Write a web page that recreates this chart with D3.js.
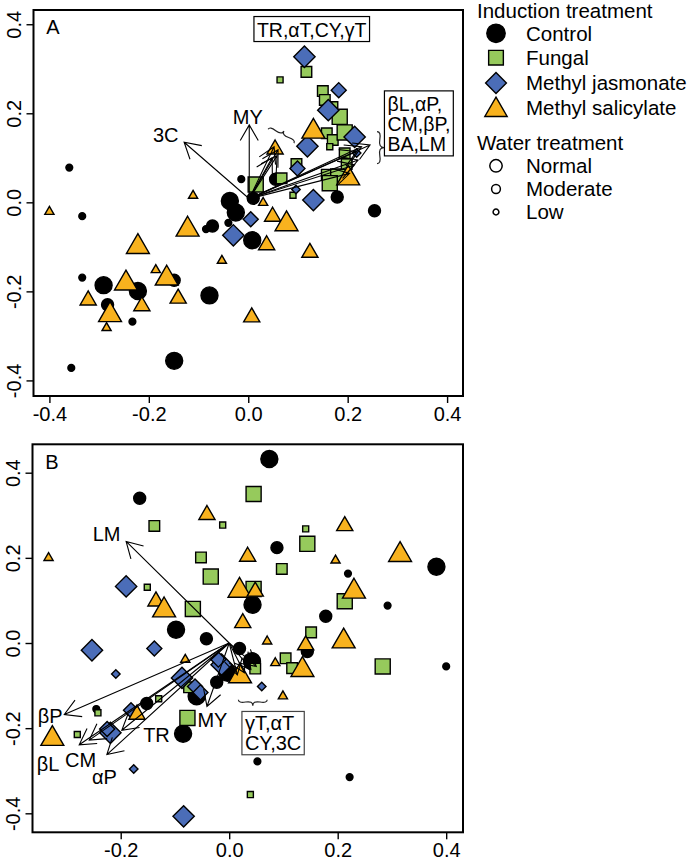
<!DOCTYPE html>
<html><head><meta charset="utf-8">
<script src="https://cdn.jsdelivr.net/npm/d3@7"></script>
<style>body{margin:0;background:#fff}</style>
</head><body><svg id="c" width="688" height="860"></svg>
<script>
// ---------------- DATA ----------------
const groups = ["Control","Fungal","Methyl jasmonate","Methyl salicylate"];
const waterLevels = ["Normal","Moderate","Low"];
const waterCodes = ["N","M","L"];
const xTicksA = [-0.4,-0.2,0.0,0.2,0.4];
const yTicksA = [-0.4,-0.2,0.0,0.2,0.4];
const xTicksB = [-0.2,0.0,0.2,0.4];
const yTicksB = [-0.4,-0.2,0.0,0.2,0.4];

// Panel A scores: [axis1, axis2, water]
const controlA = [[-0.360,0.078,"L"],[-0.334,-0.031,"L"],[-0.356,-0.372,"L"],[-0.334,-0.169,"L"],[-0.291,-0.186,"N"],[-0.283,-0.230,"M"],[-0.233,-0.268,"L"],[-0.222,-0.199,"N"],[-0.149,-0.175,"M"],[-0.078,-0.209,"N"],[-0.149,-0.356,"N"],[-0.072,-0.053,"M"],[-0.085,-0.060,"L"],[-0.040,-0.046,"L"],[-0.037,0.003,"N"],[-0.025,-0.023,"N"],[0.008,-0.085,"N"],[-0.014,0.052,"L"],[0.010,0.009,"M"],[0.055,0.052,"M"],[0.179,0.012,"M"],[0.254,-0.019,"M"]];
const fungalA = [[0.117,0.293,"M"],[0.064,0.275,"L"],[0.150,0.250,"M"],[0.154,0.230,"M"],[0.174,0.219,"L"],[0.184,0.192,"N"],[0.158,0.155,"M"],[0.170,0.140,"M"],[0.194,0.157,"N"],[0.164,0.125,"L"],[0.097,0.086,"M"],[0.158,0.062,"M"],[0.181,0.058,"N"],[0.164,0.043,"N"],[0.198,0.086,"M"],[0.067,0.054,"M"],[0.015,0.040,"N"],[0.090,0.016,"L"],[0.194,0.110,"M"]];
const mejaA = [[0.113,0.327,"N"],[0.182,0.252,"M"],[0.161,0.207,"N"],[0.214,0.147,"N"],[0.119,0.126,"N"],[0.218,0.111,"L"],[0.099,0.076,"M"],[0.096,0.029,"L"],[0.131,0.005,"N"],[0.005,-0.038,"M"],[-0.030,-0.074,"N"]];
const mesaA = [[-0.400,-0.021,"L"],[-0.111,0.015,"L"],[-0.222,-0.100,"N"],[-0.122,-0.061,"N"],[-0.186,-0.152,"L"],[-0.164,-0.171,"N"],[-0.246,-0.182,"N"],[-0.322,-0.220,"M"],[-0.214,-0.233,"M"],[-0.141,-0.216,"M"],[-0.278,-0.253,"N"],[-0.285,-0.282,"L"],[-0.053,-0.131,"L"],[0.007,-0.258,"M"],[0.049,-0.032,"M"],[0.077,-0.049,"N"],[0.037,-0.096,"M"],[0.124,-0.113,"M"],[0.030,-0.001,"L"],[0.054,0.119,"M"],[0.131,0.159,"N"],[0.201,0.054,"N"]];

// Panel B scores
const controlB = [[0.074,0.432,"N"],[-0.165,0.340,"M"],[0.088,0.224,"M"],[0.219,0.163,"L"],[0.292,0.088,"L"],[0.043,0.090,"N"],[0.178,0.063,"M"],[-0.098,0.031,"N"],[-0.042,0.010,"M"],[0.019,-0.013,"M"],[0.042,-0.043,"N"],[-0.003,-0.070,"N"],[-0.023,-0.092,"M"],[-0.060,-0.125,"N"],[-0.152,-0.142,"M"],[-0.245,-0.155,"L"],[-0.085,-0.213,"N"],[0.052,-0.278,"L"],[0.222,-0.315,"L"],[0.144,-0.020,"M"],[0.382,0.179,"N"],[0.400,-0.055,"L"]];
const fungalB = [[0.045,0.350,"N"],[-0.138,0.275,"M"],[-0.012,0.277,"L"],[0.141,0.268,"L"],[0.144,0.233,"N"],[-0.052,0.201,"M"],[0.097,0.174,"M"],[-0.034,0.156,"N"],[-0.151,0.131,"L"],[0.045,0.127,"N"],[-0.067,0.080,"N"],[0.213,0.098,"N"],[0.151,0.025,"M"],[0.104,-0.036,"M"],[0.116,-0.059,"M"],[0.283,-0.055,"N"],[0.048,-0.060,"M"],[-0.074,-0.104,"M"],[-0.130,-0.131,"L"],[-0.242,-0.164,"L"],[-0.280,-0.215,"L"],[-0.077,-0.176,"N"],[0.039,-0.356,"L"],[-0.225,-0.200,"L"]];
const mejaB = [[-0.190,0.133,"N"],[-0.253,-0.017,"N"],[-0.138,-0.013,"M"],[-0.209,-0.073,"L"],[-0.014,-0.051,"N"],[-0.087,-0.082,"N"],[-0.063,-0.102,"M"],[-0.053,-0.116,"M"],[-0.181,-0.158,"M"],[-0.219,-0.211,"N"],[-0.225,-0.202,"M"],[0.060,-0.102,"L"],[-0.176,-0.296,"L"],[-0.084,-0.407,"N"],[-0.020,-0.039,"M"]];
const mesaB = [[-0.041,0.301,"M"],[-0.333,0.200,"L"],[0.213,0.275,"M"],[0.034,0.203,"M"],[0.196,0.194,"L"],[0.315,0.207,"N"],[0.019,0.123,"N"],[0.048,0.121,"M"],[0.230,0.121,"N"],[-0.135,0.098,"M"],[-0.120,0.077,"N"],[0.025,0.047,"M"],[0.070,0.004,"L"],[0.141,-0.005,"M"],[0.211,0.004,"N"],[-0.081,-0.039,"L"],[0.085,-0.047,"L"],[0.135,-0.063,"N"],[0.020,-0.078,"N"],[0.099,-0.125,"L"],[-0.170,-0.168,"M"],[-0.326,-0.225,"N"]];

// Compound loading vectors (arrow tips)
const loadingsA = [[-0.129,0.135],[0.002,0.174],[0.052,0.125],[0.060,0.118],[0.058,0.105],[0.048,0.100],[0.245,0.129],[0.228,0.125],[0.218,0.114],[0.221,0.095],[0.214,0.084],[0.204,0.065]];
const originA = [0.002,0.008];
const loadingsB = [[-0.190,0.2385],[-0.304,-0.168],[-0.2765,-0.239],[-0.258,-0.228],[-0.2255,-0.262],[-0.198,-0.205],[-0.041,-0.149],[0.015,-0.075],[0.028,-0.070],[0.040,-0.062],[0.050,-0.055]];
const originB = [0.0,0.0];

// Vector labels: [text, x, y]
const labelsA = [["3C",-0.166,0.151],["MY",-0.001,0.192]];
const labelsB = [["LM",-0.226,0.257],["βP",-0.330,-0.170],["βL",-0.334,-0.283],["CM",-0.274,-0.275],["αP",-0.230,-0.314],["TR",-0.134,-0.215],["MY",-0.031,-0.180]];
// Boxed group labels: lines, left x, first line y
const boxesA = [{lines:["TR,αT,CY,γT"], x:0.0175, y:0.387},{lines:["βL,αP,","CM,βP,","BA,LM"], x:0.280, y:0.220}];
const boxesB = [{lines:["γT,αT","CY,3C"], x:0.029, y:-0.188}];

// ---------------- LAYOUT / STYLE ----------------
const FONT = "'Liberation Sans', Arial, Helvetica, sans-serif";
const svg = d3.select("#c");
const waterR = {N:8.5, M:6, L:3.4};
const colors = {"Control":"#000000","Fungal":"#96CA5C","Methyl jasmonate":"#4B6DB8","Methyl salicylate":"#F8B21E"};
const shapes = {"Control":"circle","Fungal":"square","Methyl jasmonate":"diamond","Methyl salicylate":"triangle"};

function symPath(shape,R){
  if(shape==="circle") return `M${R},0A${R},${R} 0 1,1 ${-R},0A${R},${R} 0 1,1 ${R},0Z`;
  if(shape==="square"){const s=0.886*R;return `M${-s},${-s}H${s}V${s}H${-s}Z`;}
  if(shape==="diamond"){const d=1.253*R;return `M0,${-d}L${d},0L0,${d}L${-d},0Z`;}
  const r=1.5551*R, xc=1.3468*R, yc=0.7776*R;
  return `M0,${-r}L${xc},${yc}L${-xc},${yc}Z`;
}
function brace(x1,y1,x2,y2,w,q=0.6){
  const len=Math.hypot(x1-x2,y1-y2), dx=(x1-x2)/len, dy=(y1-y2)/len;
  const qx1=x1+q*w*dy, qy1=y1-q*w*dx;
  const qx2=(x1-.25*len*dx)+(1-q)*w*dy, qy2=(y1-.25*len*dy)-(1-q)*w*dx;
  const tx1=(x1-.5*len*dx)+w*dy, ty1=(y1-.5*len*dy)-w*dx;
  const qx3=x2+q*w*dy, qy3=y2-q*w*dx;
  const qx4=(x1-.75*len*dx)+(1-q)*w*dy, qy4=(y1-.75*len*dy)-(1-q)*w*dx;
  return `M${x1},${y1}Q${qx1},${qy1} ${qx2},${qy2}T${tx1},${ty1}M${x2},${y2}Q${qx3},${qy3} ${qx4},${qy4}T${tx1},${ty1}`;
}
const fmt = d => d.toFixed(1);

function panel(cfg){
  const g = svg.append("g");
  const x = d3.scaleLinear().domain(cfg.xDomain).range([cfg.left,cfg.right]);
  const y = d3.scaleLinear().domain(cfg.yDomain).range([cfg.bottom,cfg.top]);
  cfg.series.forEach(([grp,data])=>{
    g.append("g").selectAll("path").data(data).join("path")
      .attr("transform",d=>`translate(${x(d[0])},${y(d[1])})`)
      .attr("d",d=>symPath(shapes[grp],waterR[d[2]]))
      .attr("fill",colors[grp]).attr("stroke","#000").attr("stroke-width",1.4).attr("stroke-linejoin","miter");
  });
  // arrows
  const L=18, ang=Math.PI/6;
  const x0=x(cfg.origin[0]), y0=y(cfg.origin[1]);
  g.append("g").selectAll("path").data(cfg.loadings).join("path")
    .attr("d",d=>{
      const x1=x(d[0]), y1=y(d[1]); const a=Math.atan2(y1-y0,x1-x0);
      return `M${x0},${y0}L${x1},${y1}M${x1-L*Math.cos(a-ang)},${y1-L*Math.sin(a-ang)}L${x1},${y1}L${x1-L*Math.cos(a+ang)},${y1-L*Math.sin(a+ang)}`;
    })
    .attr("fill","none").attr("stroke","#000").attr("stroke-width",1.1);
  // labels
  g.append("g").selectAll("text").data(cfg.labels).join("text")
    .attr("x",d=>x(d[1])).attr("y",d=>y(d[2])).attr("dy","0.36em")
    .attr("text-anchor","middle").attr("font-family",FONT).attr("font-size",20).text(d=>d[0]);
  // braces
  cfg.braces.forEach(b=>{
    g.append("path").attr("d",brace(x(b[0]),y(b[1]),x(b[2]),y(b[3]),b[4]))
      .attr("fill","none").attr("stroke","#222").attr("stroke-width",1.2);
  });
  // boxes
  cfg.boxes.forEach(b=>{
    const bg=g.append("g");
    const rect=bg.append("rect");
    const t=bg.append("text").attr("font-family",FONT).attr("font-size",cfg.boxFont);
    b.lines.forEach((ln,i)=>{
      t.append("tspan").attr("x",x(b.x)).attr("y",y(b.y)+i*cfg.lineGap).attr("dy","0.36em").text(ln);
    });
    const bb=t.node().getBBox();
    const top=y(b.y)-cfg.boxPadTop, bot=y(b.y)+(b.lines.length-1)*cfg.lineGap+cfg.boxPadBot;
    rect.attr("x",bb.x-3).attr("y",top).attr("width",bb.width+6).attr("height",bot-top)
      .attr("fill","#fff").attr("stroke",cfg.boxStroke).attr("stroke-width",1.2);
  });
  // frame
  g.append("rect").attr("x",cfg.left).attr("y",cfg.top).attr("width",cfg.right-cfg.left).attr("height",cfg.bottom-cfg.top)
    .attr("fill","none").attr("stroke","#000").attr("stroke-width",2);
  // axes
  const ax=g.append("g").attr("transform",`translate(0,${cfg.bottom})`)
    .call(d3.axisBottom(x).tickValues(cfg.xTicks).tickSize(7).tickPadding(4).tickFormat(fmt));
  const ay=g.append("g").attr("transform",`translate(${cfg.left},0)`)
    .call(d3.axisLeft(y).tickValues(cfg.yTicks).tickSize(7).tickFormat(fmt));
  [ax,ay].forEach(a=>{
    a.select(".domain").remove();
    a.attr("font-family",FONT).attr("font-size",20);
    a.selectAll("line").attr("stroke","#000").attr("stroke-width",1.4);
    a.selectAll("text").attr("fill","#000");
  });
  ay.selectAll("text").attr("transform","rotate(-90)").attr("x",0).attr("y",-12.5).attr("dy",0).attr("text-anchor","middle");
  // panel letter
  g.append("text").attr("x",cfg.left+19.5).attr("y",cfg.top+17).attr("dy","0.36em").attr("text-anchor","middle")
    .attr("font-family",FONT).attr("font-size",20).text(cfg.letter);
}

panel({letter:"A", left:33.5,right:463,top:10,bottom:396, xDomain:[-0.432,0.432], yDomain:[-0.435,0.432],
  series:[["Control",controlA],["Fungal",fungalA],["Methyl jasmonate",mejaA],["Methyl salicylate",mesaA]],
  origin:originA, loadings:loadingsA, labels:labelsA, boxes:boxesA, boxFont:19.5, lineGap:20, boxPadTop:13.5, boxPadBot:11.5, boxStroke:"#000",
  braces:[[0.092,0.133,0.040,0.164,6],[0.259,0.087,0.259,0.159,7]],
  xTicks:xTicksA, yTicks:yTicksA});
panel({letter:"B", left:32.5,right:463,top:444.3,bottom:832.3, xDomain:[-0.3626,0.431], yDomain:[-0.4446,0.4667],
  series:[["Control",controlB],["Fungal",fungalB],["Methyl jasmonate",mejaB],["Methyl salicylate",mesaB]],
  origin:originB, loadings:loadingsB, labels:labelsB, boxes:boxesB, boxFont:20, lineGap:20, boxPadTop:11.6, boxPadBot:11.7, boxStroke:"#444",
  braces:[[0.017,-0.133,0.070,-0.133,6]],
  xTicks:xTicksB, yTicks:yTicksB});

// ---------------- LEGEND ----------------
const lg = svg.append("g").attr("font-family",FONT).attr("font-size",20.5);
const legSymX = 496, legTxtX = 526;
const indY = [33.3,57.7,83,107.5];
lg.append("text").attr("x",477).attr("y",11).attr("dy","0.36em").text("Induction treatment");
lg.selectAll("path.ind").data(groups).join("path").attr("class","ind")
  .attr("transform",(d,i)=>`translate(${legSymX},${indY[i]+(shapes[d]==="triangle"?2.5:0)})`)
  .attr("d",d=>symPath(shapes[d], shapes[d]==="circle"?9.2:8.3))
  .attr("fill",d=>colors[d]).attr("stroke","#000").attr("stroke-width",1.4);
lg.selectAll("text.ind").data(groups).join("text").attr("class","ind")
  .attr("x",legTxtX).attr("y",(d,i)=>indY[i]).attr("dy","0.36em").text(d=>d);
const watY = [165.8,189,212];
const watR = [6.2,4.4,2.9];
lg.append("text").attr("x",477).attr("y",142.5).attr("dy","0.36em").text("Water treatment");
lg.selectAll("path.wat").data(waterLevels).join("path").attr("class","wat")
  .attr("transform",(d,i)=>`translate(${legSymX},${watY[i]})`)
  .attr("d",(d,i)=>symPath("circle",watR[i]))
  .attr("fill","#fff").attr("stroke","#000").attr("stroke-width",1.5);
lg.selectAll("text.wat").data(waterLevels).join("text").attr("class","wat")
  .attr("x",legTxtX).attr("y",(d,i)=>watY[i]).attr("dy","0.36em").text(d=>d);
</script></body></html>
